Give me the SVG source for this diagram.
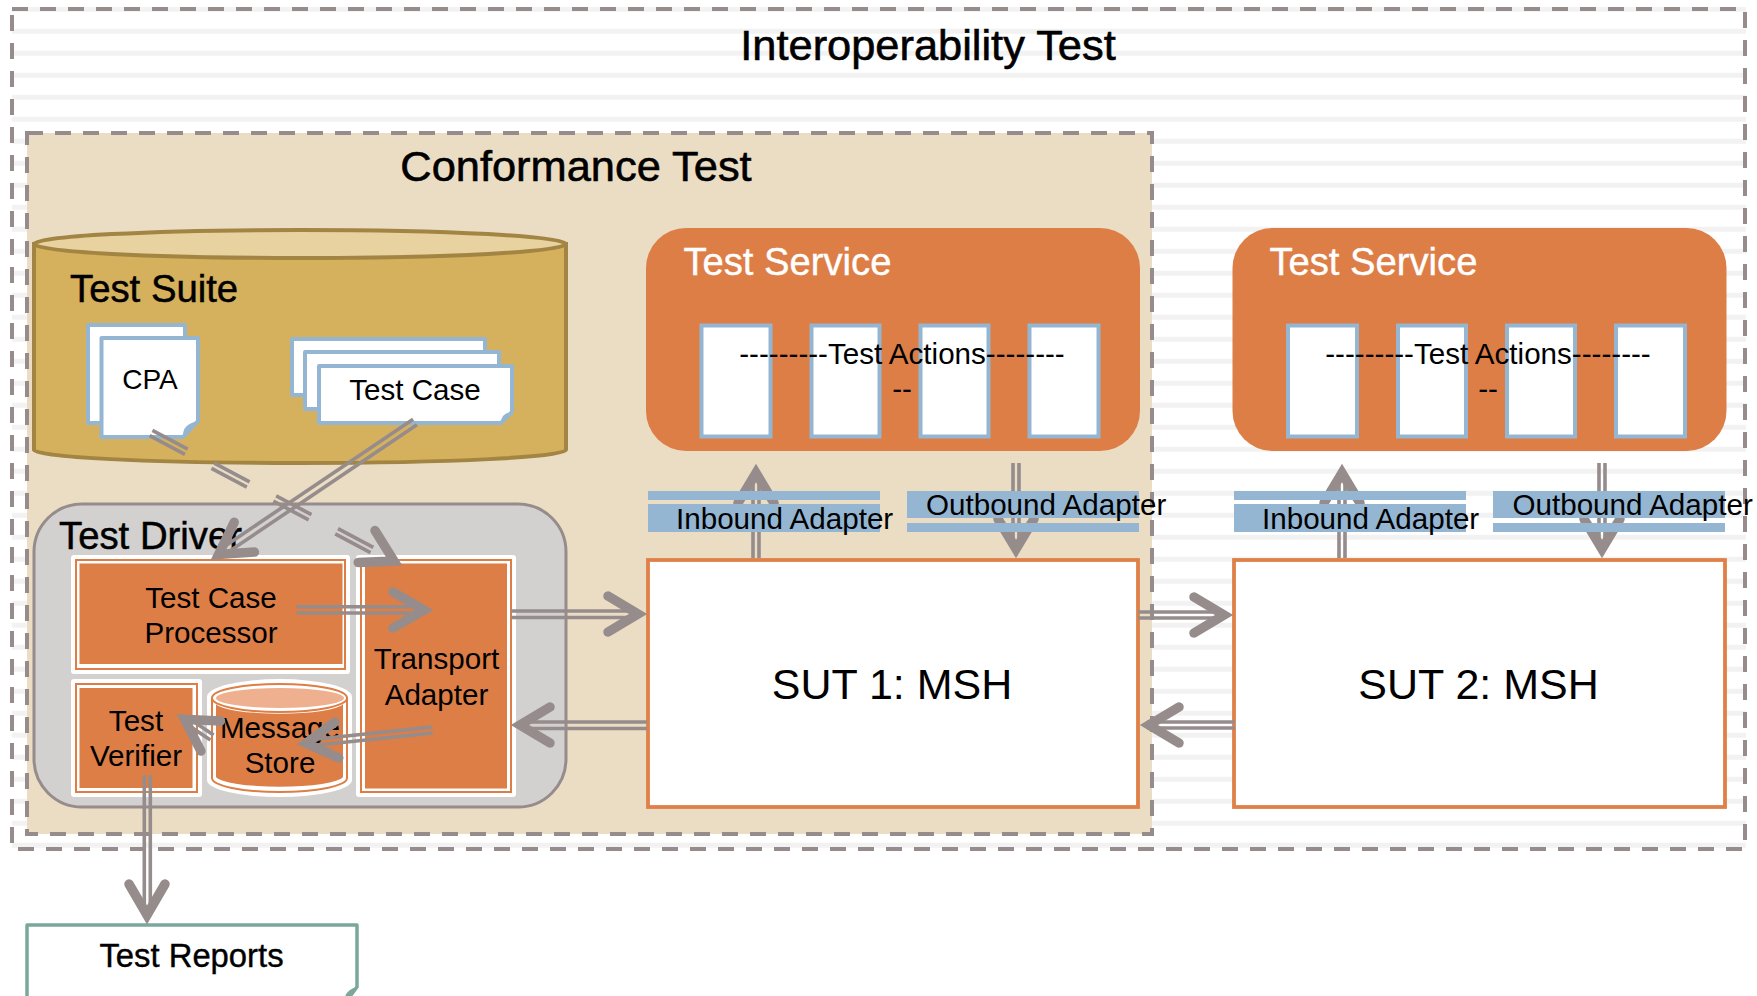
<svg xmlns="http://www.w3.org/2000/svg" width="1757" height="996" viewBox="0 0 1757 996">
<style>
text{font-family:"Liberation Sans",Arial,sans-serif;font-size:29.600px;fill:#000}
.m{text-anchor:middle}
.h1{font-size:43.400px;stroke:#000;stroke-width:.6px}
.h2{font-size:38.300px;stroke:#000;stroke-width:.5px}
.ts{font-size:38.200px;fill:#fff;stroke:#fff;stroke-width:.4px}
.sut{font-size:43px}
.dash{fill:none;stroke:#968c8c;stroke-width:4;stroke-dasharray:16 12}
.svc{fill:#dd7e47}
.act{fill:#fff;stroke:#94b6d2;stroke-width:4}
.bar{fill:#94b6d2}
.box{fill:#fff;stroke:#df8049;stroke-width:3.800}
.o1{fill:#fff}
.o2{fill:#fff;stroke:#dd7e47;stroke-width:2}
.o3{fill:#dd7e47}
.doc{fill:#fff;stroke:#94b6d2;stroke-width:4;stroke-linejoin:round}
.fold{fill:#94b6d2}
.rail{fill:none;stroke:#968c8c;stroke-width:3.600}
.dr{stroke-dasharray:40 30}
.head{fill:none;stroke:#968c8c;stroke-width:9.500;stroke-linecap:round;stroke-linejoin:miter;stroke-miterlimit:10}
</style>
<defs>
<pattern id="stripes" patternUnits="userSpaceOnUse" x="0" y="6.8" width="22" height="22"><rect width="22" height="5" fill="#f2f2f2"/></pattern>
</defs>

<g id="interoperability-test">
<rect x="12" y="7" width="1734" height="842" fill="#fff"/>
<rect x="12" y="7" width="1734" height="842" fill="url(#stripes)"/>
<rect class="dash" x="12" y="9" width="1733" height="840"/>
<text class="h1 m" x="928" y="60">Interoperability Test</text>
</g>

<g id="conformance-test">
<rect x="27" y="133" width="1125" height="701" fill="#eaddc4"/>
<rect class="dash" x="27" y="133" width="1125" height="701"/>
<text class="h1 m" x="576" y="181">Conformance Test</text>
</g>

<g id="test-suite">
<path d="M34 244V450C34 457 150 463 300 463S566 457 566 450V244Z" fill="#d6b15d" stroke="#a38543" stroke-width="4"/>
<ellipse cx="300" cy="244" rx="266" ry="14" fill="#e8d29f" stroke="#a38543" stroke-width="4"/>
<text class="h2" x="70" y="302">Test Suite</text>
</g>

<g id="cpa">
<rect class="doc" x="88" y="325" width="97" height="98"/>
<path class="doc" d="M101.500 338H198V421L183 437H101.500Z"/>
<path class="fold" d="M183 437Q182 424 198 421Z"/>
<text class="m" x="150" y="389" style="font-size:28px">CPA</text>
</g>

<g id="test-case">
<rect class="doc" x="292" y="339" width="193" height="56"/>
<rect class="doc" x="305" y="352" width="194" height="57"/>
<path class="doc" d="M319 366H512V412L501 423H319Z"/>
<path class="fold" d="M501 423Q501 413 512 412Z"/>
<text class="m" x="415" y="400">Test Case</text>
</g>

<g id="test-driver">
<rect x="34" y="504" width="532" height="303" rx="48" fill="#d2d1d0" stroke="#968c8c" stroke-width="3"/>
<text class="h2" x="59" y="549">Test Driver</text>
</g>

<g id="test-case-processor">
<rect class="o1" x="71" y="555" width="279" height="119" rx="3"/>
<rect class="o2" x="76" y="560" width="269" height="109"/>
<rect class="o3" x="79.500" y="563.500" width="263" height="100.500"/>
<text class="m" x="211" y="608">Test Case</text>
<text class="m" x="211" y="643">Processor</text>
</g>

<g id="transport-adapter">
<rect class="o1" x="356" y="555" width="160" height="242" rx="3"/>
<rect class="o2" x="361" y="560" width="150" height="232"/>
<rect class="o3" x="365" y="563.500" width="142" height="225"/>
<text class="m" x="436.500" y="669">Transport</text>
<text class="m" x="436.500" y="705">Adapter</text>
</g>

<g id="test-verifier">
<rect class="o1" x="71" y="679" width="131" height="118" rx="3"/>
<rect class="o2" x="76" y="684" width="121" height="108"/>
<rect class="o3" x="79.500" y="688" width="113" height="100"/>
<text class="m" x="136" y="731">Test</text>
<text class="m" x="136" y="766">Verifier</text>
</g>

<g id="message-store">
<path class="o1" d="M207 697A72.500 18 0 0 1 352 697V780A72.500 17 0 0 1 207 780Z"/>
<path class="o2" d="M212 698A67.500 14 0 0 1 347 698V778A67.500 14 0 0 1 212 778Z"/>
<path d="M212 698A67.500 14 0 0 0 347 698" fill="none" stroke="#dd7e47" stroke-width="2"/>
<path class="o3" d="M216 704A64 11 0 0 0 343 704V777A64 11 0 0 1 216 777Z"/>
<ellipse cx="280" cy="698" rx="64" ry="10" fill="#eeb08e"/>
<text class="m" x="280" y="738">Message</text>
<text class="m" x="280" y="773">Store</text>
</g>

<g id="test-service-1">
<rect class="svc" x="646" y="228" width="494" height="223" rx="40"/>
<text class="ts" x="683.400" y="275">Test Service</text>
<rect class="act" x="701.500" y="325.500" width="69" height="111"/>
<rect class="act" x="811.500" y="325.500" width="68" height="111"/>
<rect class="act" x="920.500" y="325.500" width="68" height="111"/>
<rect class="act" x="1029.500" y="325.500" width="69" height="111"/>
<text class="m" x="902" y="364">---------Test Actions--------</text>
<text class="m" x="902" y="399">--</text>
</g>

<g id="test-service-2">
<rect class="svc" x="1232.500" y="228" width="494" height="223" rx="40"/>
<text class="ts" x="1269.400" y="275">Test Service</text>
<rect class="act" x="1288" y="325.500" width="69" height="111"/>
<rect class="act" x="1398" y="325.500" width="68" height="111"/>
<rect class="act" x="1507" y="325.500" width="68" height="111"/>
<rect class="act" x="1616" y="325.500" width="69" height="111"/>
<text class="m" x="1488" y="364">---------Test Actions--------</text>
<text class="m" x="1488" y="399">--</text>
</g>

<g id="sut-1">
<rect class="box" x="648" y="560" width="490" height="247"/>
<text class="sut m" x="892" y="699">SUT 1: MSH</text>
</g>

<g id="sut-2">
<rect class="box" x="1234" y="560" width="491" height="247"/>
<text class="sut m" x="1478.500" y="699">SUT 2: MSH</text>
</g>

<g id="test-reports">
<path d="M27 925H357V987L345 1003H27Z" fill="#fff" stroke="#7ba79d" stroke-width="3.500" stroke-linejoin="round"/>
<path d="M344 1003Q344 990 357 987Z" fill="#7ba79d"/>
<text class="m" x="191.500" y="967" style="font-size:32.800px;stroke:#000;stroke-width:.4px">Test Reports</text>
</g>

<g id="connectors">
<g id="c-cpa-transport"><path class="rail dr" d="M152.400 430.350L373.400 547.350"/><path class="rail dr" d="M149.600 435.650L370.600 552.650"/><path class="head" d="M358.200 562.400L394 561L375 530.600"/></g>
<g id="c-case-processor"><path class="rail" d="M413.100 419.200L216.700 551.700M416.900 424.800L220.500 557.300"/><path class="head" d="M234.200 522.300L218.600 554.500L254.400 552.100"/></g>
<g id="c-processor-transport"><path class="rail" d="M296.600 606.700H424M296.600 613H424"/><path class="head" d="M393 592L424 610L393 628"/></g>
<g id="c-transport-store"><path class="rail" d="M432.200 727L305.700 740.200M432.800 733L306.300 746.200"/><path class="head" d="M334.900 722.100L306 743.200L338.700 757.900"/></g>
<g id="c-store-verifier"><path class="rail" d="M213.600 735L186.300 716.800M210.400 740L183.100 721.800"/><path class="head" d="M220.500 721L184.700 719.300L200.900 751.100"/></g>
<g id="c-verifier-reports"><path class="rail" d="M144.300 775V915M150.300 775V915"/><path class="head" d="M129 884L147 915L165 884"/></g>
<g id="c-transport-sut1"><path class="rail" d="M511 611H638M511 617.500H638"/><path class="head" d="M608 596L638 614L608 632"/></g>
<g id="c-sut1-transport"><path class="rail" d="M647 722H522M647 728.500H522"/><path class="head" d="M550 707L520 725L550 743"/></g>
<g id="c-sut1-sut2"><path class="rail" d="M1138 612H1225M1138 618H1225"/><path class="head" d="M1194 597L1224 615L1194 633"/></g>
<g id="c-sut2-sut1"><path class="rail" d="M1235 722H1147M1235 728H1147"/><path class="head" d="M1179 707L1149 725L1179 743"/></g>
<g id="c-in-1"><path class="rail" d="M753 558V472M759 558V472"/><path class="head" d="M738 503L756 473L774 503"/></g>
<g id="c-out-1"><path class="rail" d="M1013 463V550M1019 463V550"/><path class="head" d="M998 519L1016 549L1034 519"/></g>
<g id="c-in-2"><path class="rail" d="M1339 558V472M1345 558V472"/><path class="head" d="M1324 503L1342 473L1360 503"/></g>
<g id="c-out-2"><path class="rail" d="M1599 463V550M1605 463V550"/><path class="head" d="M1584 519L1602 549L1620 519"/></g>
</g>

<g id="inbound-adapter-1">
<rect class="bar" x="648" y="491" width="232" height="9"/>
<rect class="bar" x="648" y="504" width="232" height="28"/>
<text x="676" y="529">Inbound Adapter</text>
</g>
<g id="outbound-adapter-1">
<rect class="bar" x="907" y="491" width="232" height="27"/>
<rect class="bar" x="907" y="523" width="232" height="9"/>
<text x="926" y="515">Outbound Adapter</text>
</g>
<g id="inbound-adapter-2">
<rect class="bar" x="1234" y="491" width="232" height="9"/>
<rect class="bar" x="1234" y="504" width="232" height="28"/>
<text x="1262" y="529">Inbound Adapter</text>
</g>
<g id="outbound-adapter-2">
<rect class="bar" x="1493" y="491" width="232" height="27"/>
<rect class="bar" x="1493" y="523" width="232" height="9"/>
<text x="1512.500" y="515">Outbound Adapter</text>
</g>
</svg>
